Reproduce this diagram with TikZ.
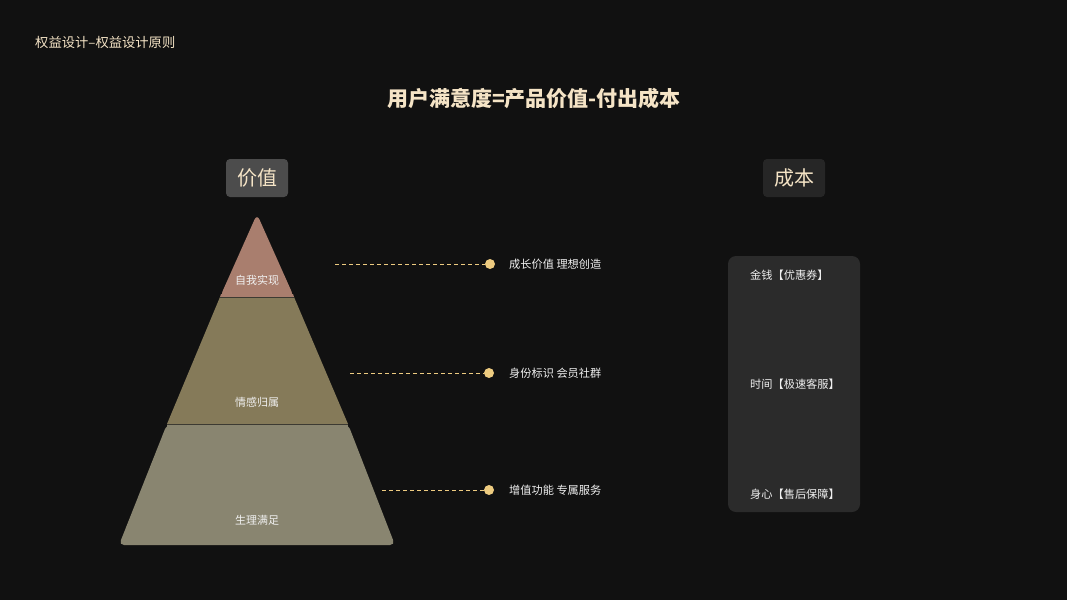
\documentclass[tikz,border=0pt]{standalone}
\usepackage{fontspec}
\newfontfamily\cjk{Noto Sans CJK SC}
\definecolor{bg}{HTML}{111111}
\definecolor{cream}{HTML}{F5E4C6}
\definecolor{gold}{HTML}{EDCB80}
\definecolor{txt}{HTML}{F0F0F0}
\definecolor{topc}{HTML}{A97E6E}
\definecolor{midc}{HTML}{857A59}
\definecolor{botc}{HTML}{898570}
\definecolor{sep}{HTML}{3C3A32}
\tikzset{
  lbl/.style={font=\cjk\fontsize{11.2}{13}\selectfont, text=txt, inner sep=0pt},
  lay/.style={font=\cjk\fontsize{11}{13}\selectfont, text=txt, inner sep=0pt},
  head/.style={font=\cjk\fontsize{20}{24}\selectfont, text=cream, rounded corners=4pt, minimum width=62pt, minimum height=38pt, inner sep=0pt},
  conn/.style={draw=gold, line width=1pt, dash pattern=on 4pt off 3pt},
  dotn/.style={circle, fill=gold, minimum size=10pt, inner sep=0pt},
}
\begin{document}
\begin{tikzpicture}[x=1pt,y=-1pt]
\fill[bg] (0,0) rectangle (1067,600);
\useasboundingbox (0,0) rectangle (1067,600);

\node[anchor=west, font=\cjk\fontsize{13.3}{15}\selectfont, text=cream, inner sep=0pt] (crumb) at (35,42) {权益设计–权益设计原则};
\node[font=\cjk\bfseries\fontsize{21}{25}\selectfont, text=cream, inner sep=0pt] (title) at (534,98) {用户满意度=产品价值-付出成本};

\node[head, fill=white!25!bg] (value) at (257,178) {价值};
\node[head, fill=white!9!bg] (cost) at (794,178) {成本};

% pyramid
\fill[botc, rounded corners=5pt] (167,424) -- (119,545) -- (395,545) -- (348,424) -- cycle;
\fill[botc] (167,424) rectangle (348,428);
\fill[midc] (167,424) -- (220,297) -- (294,297) -- (348,424) -- cycle;
\fill[topc, rounded corners=6pt] (220,297) -- (257,214) -- (294,297) -- cycle;
\fill[topc] (220,297) -- (221,294) -- (293,294) -- (294,297) -- cycle;
\draw[sep, line width=1pt] (220,297) -- (294,297);
\draw[sep, line width=1pt] (167,424) -- (348,424);

\node[lay] (l1) at (257,280) {自我实现};
\node[lay] (l2) at (257,402) {情感归属};
\node[lay] (l3) at (257,520) {生理满足};

% connectors
\coordinate (s1) at (335,264);
\coordinate (s2) at (350,373);
\coordinate (s3) at (382,490);
\node[dotn] (d1) at (490,264) {};
\node[dotn] (d2) at (489,373) {};
\node[dotn] (d3) at (489,490) {};
\draw[conn] (s1) -- (d1.west);
\draw[conn] (s2) -- (d2.west);
\draw[conn] (s3) -- (d3.west);
\node[lbl, anchor=west] (t1) at (509,264) {成长价值 理想创造};
\node[lbl, anchor=west] (t2) at (509,373) {身份标识 会员社群};
\node[lbl, anchor=west] (t3) at (509,490) {增值功能 专属服务};

% cost box
\node[fill=white!11!bg, rounded corners=8pt, minimum width=132pt, minimum height=256pt, inner sep=0pt] (costbox) at (794,384) {};
\node[lbl, anchor=west] (c1) at (750,275) {金钱【优惠券】};
\node[lbl, anchor=west] (c2) at (750,384) {时间【极速客服】};
\node[lbl, anchor=west] (c3) at (750,494) {身心【售后保障】};
\end{tikzpicture}
\end{document}
